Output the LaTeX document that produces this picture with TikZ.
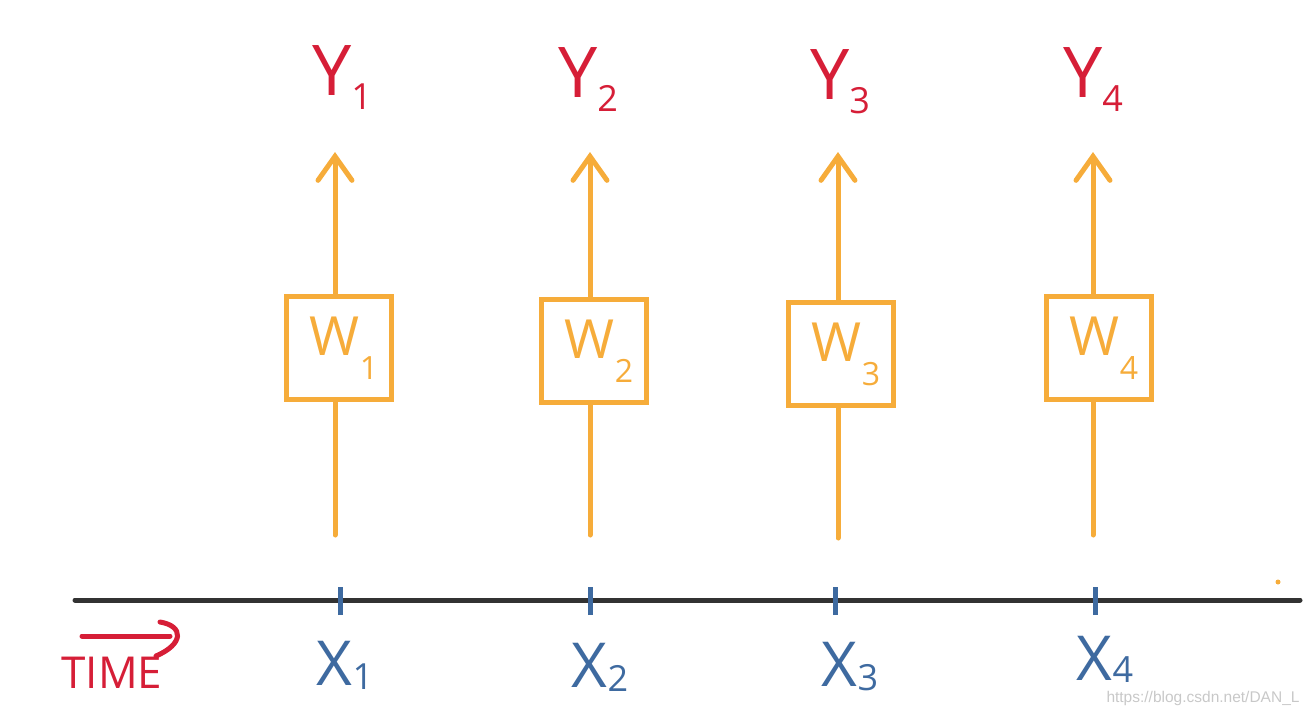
\documentclass[tikz,border=0pt]{standalone}
\usepackage{fontspec}
\setmainfont{Open Sans}
\newfontfamily\wmfont{Liberation Sans}
\usetikzlibrary{arrows.meta}
\definecolor{orng}{RGB}{246,172,58}
\definecolor{rd}{RGB}{214,30,55}
\definecolor{bl}{RGB}{62,106,160}
\definecolor{ax}{RGB}{50,50,50}
\definecolor{wm}{RGB}{200,200,200}
% main size, sub size, letter, drop, digit
\newcommand\sublabel[5]{{\fontsize{#1}{#1}\selectfont #3}\raisebox{#4}{\fontsize{#2}{#2}\selectfont #5}}
\tikzset{
  ylab/.style={text=rd, inner sep=0pt},
  xlab/.style={text=bl, inner sep=0pt},
  wbox/.style={draw=orng, line width=5pt, minimum width=105pt, minimum height=103pt, inner sep=0pt, text=orng},
  wire/.style={draw=orng, line width=5pt, line cap=round},
  uparr/.style={wire, -{Straight Barb[length=24pt,width=34pt,line cap=round]}},
  tick/.style={draw=bl, line width=5pt},
  axis/.style={draw=ax, line width=5pt, line cap=round},
}
\begin{document}
\begin{tikzpicture}[x=1pt,y=-1pt]
\useasboundingbox (0,0) rectangle (1310,715);
% axis
\draw[axis] (75,600) -- (1300,600);
% ticks
\foreach \i/\x in {1/340,2/590,3/835,4/1095}{
  \coordinate (t\i) at (\x,600);
  \draw[tick] ([yshift=-15pt]t\i) -- ([yshift=13pt]t\i);
}
% boxes
\node[wbox] (w1) at (339,348) {\hspace{10pt}\sublabel{54pt}{32pt}{W}{-24pt}{1}};
\node[wbox] (w2) at (594,351) {\hspace{10pt}\sublabel{54pt}{32pt}{W}{-24pt}{2}};
\node[wbox] (w3) at (841,354) {\hspace{10pt}\sublabel{54pt}{32pt}{W}{-24pt}{3}};
\node[wbox] (w4) at (1099,348) {\hspace{10pt}\sublabel{54pt}{32pt}{W}{-24pt}{4}};
% wire endpoints
\coordinate (b1) at (335,535); \coordinate (a1) at (335,152);
\coordinate (b2) at (590,535); \coordinate (a2) at (590,152);
\coordinate (b3) at (838,538); \coordinate (a3) at (838,152);
\coordinate (b4) at (1093,535); \coordinate (a4) at (1093,152);
\foreach \i in {1,2,3,4}{
  \draw[wire] (b\i) -- (w\i.south -| b\i);
  \draw[uparr] (w\i.north -| a\i) -- (a\i);
}
% outputs
\node[ylab] (y1) at (342,78) {\sublabel{70pt}{36pt}{Y}{-14pt}{1}};
\node[ylab] (y2) at (588,80) {\sublabel{70pt}{36pt}{Y}{-14pt}{2}};
\node[ylab] (y3) at (840,82) {\sublabel{70pt}{36pt}{Y}{-14pt}{3}};
\node[ylab] (y4) at (1093,80) {\sublabel{70pt}{36pt}{Y}{-14pt}{4}};
% inputs
\node[xlab] (x1) at (345,665) {\sublabel{62pt}{36pt}{X}{-4pt}{1}};
\node[xlab] (x2) at (600,667) {\sublabel{62pt}{36pt}{X}{-4pt}{2}};
\node[xlab] (x3) at (850,667) {\sublabel{62pt}{36pt}{X}{-4pt}{3}};
\node[xlab] (x4) at (1105,659) {\sublabel{62pt}{36pt}{X}{-2pt}{4}};
% time
\node[text=rd, inner sep=0pt] (time) at (112,673) {\fontsize{44pt}{44pt}\selectfont TIME};
\coordinate (ts) at (82,636);
\coordinate (te) at (170,636);
\draw[draw=rd, line width=5pt, line cap=round] (ts) -- (te);
\draw[draw=rd, line width=5pt, line cap=round] (160,622) .. controls (184,626) and (184,644) .. (156,656);
% stray dot
\fill[orng] (1278,582) circle (2.5pt);
% watermark
\node[text=wm, inner sep=0pt] (wmark) at (1203,698) {\wmfont\fontsize{15.5pt}{15.5pt}\selectfont https://blog.csdn.net/DAN\_L};
\end{tikzpicture}
\end{document}
